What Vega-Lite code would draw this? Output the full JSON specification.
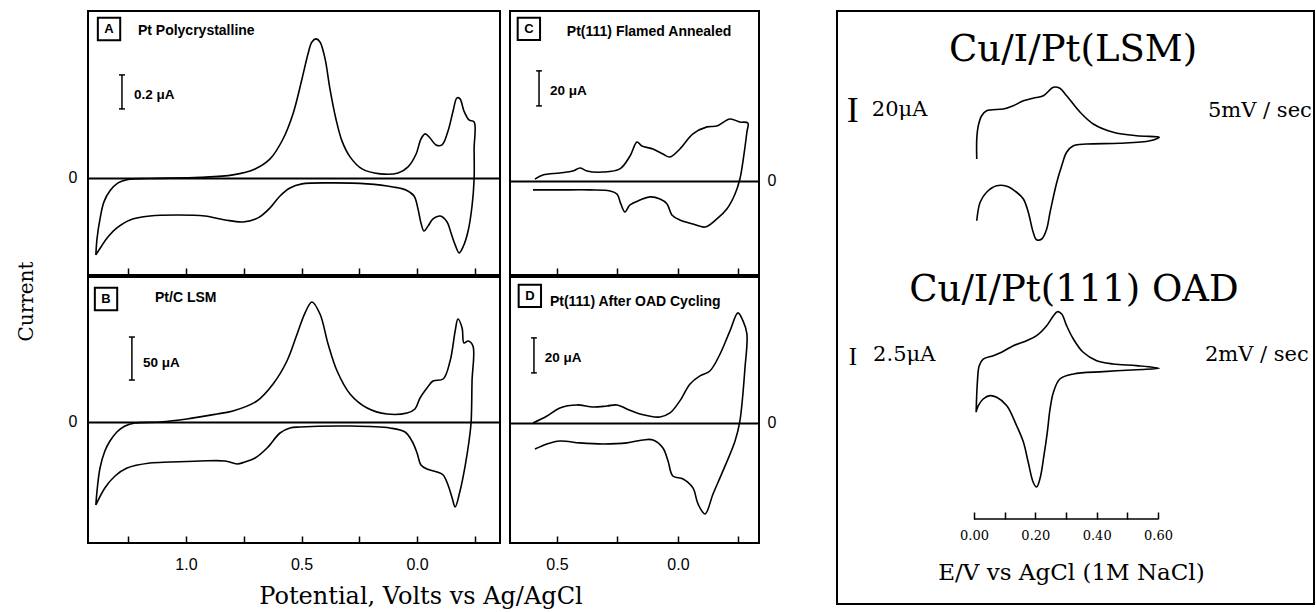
{
"$schema": "https://vega.github.io/schema/vega-lite/v6.json",
"background": "white",
"padding": {"left": 17, "top": 10, "right": 0, "bottom": 0},
"config": {
  "view": {"stroke": "black", "strokeWidth": 2},
  "axis": {"grid": false, "domain": false, "labelColor": "black", "tickColor": "black", "labelFont": "Liberation Sans", "labelFontSize": 16, "labelFlush": false},
  "line": {"color": "black", "strokeWidth": 1.6, "interpolate": "catmull-rom"},
  "rule": {"color": "black", "strokeWidth": 1.5},
  "text": {"color": "black"}
},
"datasets": {
  "cur": [
    {"p":"A","o":1,"v":1.390,"i":-0.453},{"p":"A","o":2,"v":1.385,"i":-0.359},{"p":"A","o":3,"v":1.372,"i":-0.241},{"p":"A","o":4,"v":1.355,"i":-0.141},{"p":"A","o":5,"v":1.329,"i":-0.076},{"p":"A","o":6,"v":1.294,"i":-0.029},{"p":"A","o":7,"v":1.251,"i":-0.009},{"p":"A","o":8,"v":1.156,"i":-0.003},{"p":"A","o":9,"v":0.939,"i":0.003},{"p":"A","o":10,"v":0.797,"i":0.018},
    {"p":"A","o":11,"v":0.701,"i":0.053},{"p":"A","o":12,"v":0.636,"i":0.112},{"p":"A","o":13,"v":0.580,"i":0.229},{"p":"A","o":14,"v":0.537,"i":0.376},{"p":"A","o":15,"v":0.498,"i":0.582},{"p":"A","o":16,"v":0.472,"i":0.729},{"p":"A","o":17,"v":0.455,"i":0.800},{"p":"A","o":18,"v":0.437,"i":0.818},{"p":"A","o":19,"v":0.420,"i":0.800},{"p":"A","o":20,"v":0.398,"i":0.700},
    {"p":"A","o":21,"v":0.377,"i":0.524},{"p":"A","o":22,"v":0.351,"i":0.347},{"p":"A","o":23,"v":0.325,"i":0.218},{"p":"A","o":24,"v":0.290,"i":0.124},{"p":"A","o":25,"v":0.238,"i":0.053},{"p":"A","o":26,"v":0.160,"i":0.024},{"p":"A","o":27,"v":0.082,"i":0.029},{"p":"A","o":28,"v":0.039,"i":0.065},{"p":"A","o":29,"v":0.004,"i":0.141},{"p":"A","o":30,"v":-0.017,"i":0.229},
    {"p":"A","o":31,"v":-0.035,"i":0.259},{"p":"A","o":32,"v":-0.056,"i":0.235},{"p":"A","o":33,"v":-0.082,"i":0.194},{"p":"A","o":34,"v":-0.108,"i":0.194},{"p":"A","o":35,"v":-0.134,"i":0.276},{"p":"A","o":36,"v":-0.156,"i":0.394},{"p":"A","o":37,"v":-0.173,"i":0.471},{"p":"A","o":38,"v":-0.186,"i":0.465},{"p":"A","o":39,"v":-0.203,"i":0.394},{"p":"A","o":40,"v":-0.225,"i":0.341},
    {"p":"A","o":41,"v":-0.247,"i":0.329},{"p":"A","o":42,"v":-0.247,"i":0.171},{"p":"A","o":43,"v":-0.247,"i":-0.006},{"p":"A","o":44,"v":-0.238,"i":-0.165},{"p":"A","o":45,"v":-0.221,"i":-0.312},{"p":"A","o":46,"v":-0.199,"i":-0.406},{"p":"A","o":47,"v":-0.182,"i":-0.441},{"p":"A","o":48,"v":-0.165,"i":-0.394},{"p":"A","o":49,"v":-0.147,"i":-0.324},{"p":"A","o":50,"v":-0.130,"i":-0.259},
    {"p":"A","o":51,"v":-0.100,"i":-0.224},{"p":"A","o":52,"v":-0.069,"i":-0.241},{"p":"A","o":53,"v":-0.048,"i":-0.282},{"p":"A","o":54,"v":-0.030,"i":-0.312},{"p":"A","o":55,"v":-0.017,"i":-0.265},{"p":"A","o":56,"v":-0.004,"i":-0.182},{"p":"A","o":57,"v":0.013,"i":-0.106},{"p":"A","o":58,"v":0.048,"i":-0.071},{"p":"A","o":59,"v":0.104,"i":-0.053},{"p":"A","o":60,"v":0.216,"i":-0.035},
    {"p":"A","o":61,"v":0.364,"i":-0.029},{"p":"A","o":62,"v":0.498,"i":-0.035},{"p":"A","o":63,"v":0.550,"i":-0.059},{"p":"A","o":64,"v":0.593,"i":-0.106},{"p":"A","o":65,"v":0.636,"i":-0.176},{"p":"A","o":66,"v":0.688,"i":-0.235},{"p":"A","o":67,"v":0.753,"i":-0.259},{"p":"A","o":68,"v":0.831,"i":-0.247},{"p":"A","o":69,"v":0.918,"i":-0.224},{"p":"A","o":70,"v":1.039,"i":-0.218},
    {"p":"A","o":71,"v":1.156,"i":-0.224},{"p":"A","o":72,"v":1.242,"i":-0.247},{"p":"A","o":73,"v":1.299,"i":-0.294},{"p":"A","o":74,"v":1.338,"i":-0.347},{"p":"A","o":75,"v":1.368,"i":-0.406},{"p":"A","o":76,"v":1.390,"i":-0.453},

    {"p":"B","o":1,"v":1.390,"i":-96.5},{"p":"B","o":2,"v":1.385,"i":-80.2},{"p":"B","o":3,"v":1.372,"i":-53.5},{"p":"B","o":4,"v":1.351,"i":-33.7},{"p":"B","o":5,"v":1.329,"i":-22.1},{"p":"B","o":6,"v":1.299,"i":-11.6},{"p":"B","o":7,"v":1.264,"i":-4.7},{"p":"B","o":8,"v":1.221,"i":-1.2},{"p":"B","o":9,"v":1.113,"i":0},{"p":"B","o":10,"v":0.996,"i":3.5},
    {"p":"B","o":11,"v":0.866,"i":9.3},{"p":"B","o":12,"v":0.797,"i":12.8},{"p":"B","o":13,"v":0.693,"i":24.4},{"p":"B","o":14,"v":0.623,"i":44.2},{"p":"B","o":15,"v":0.563,"i":70.9},{"p":"B","o":16,"v":0.519,"i":102.3},{"p":"B","o":17,"v":0.485,"i":126.7},{"p":"B","o":18,"v":0.455,"i":139.5},{"p":"B","o":19,"v":0.420,"i":125.6},{"p":"B","o":20,"v":0.385,"i":90.7},
    {"p":"B","o":21,"v":0.346,"i":59.3},{"p":"B","o":22,"v":0.290,"i":32.6},{"p":"B","o":23,"v":0.216,"i":16.3},{"p":"B","o":24,"v":0.130,"i":9.3},{"p":"B","o":25,"v":0.043,"i":10.5},{"p":"B","o":26,"v":0.009,"i":15.1},{"p":"B","o":27,"v":-0.013,"i":27.9},{"p":"B","o":28,"v":-0.043,"i":39.5},{"p":"B","o":29,"v":-0.069,"i":47.7},{"p":"B","o":30,"v":-0.113,"i":50.0},
    {"p":"B","o":31,"v":-0.143,"i":70.9},{"p":"B","o":32,"v":-0.165,"i":105.8},{"p":"B","o":33,"v":-0.177,"i":119.8},{"p":"B","o":34,"v":-0.195,"i":109.3},{"p":"B","o":35,"v":-0.203,"i":91.9},{"p":"B","o":36,"v":-0.221,"i":94.2},{"p":"B","o":37,"v":-0.242,"i":88.4},{"p":"B","o":38,"v":-0.238,"i":47.7},{"p":"B","o":39,"v":-0.234,"i":0},{"p":"B","o":40,"v":-0.225,"i":-22.1},
    {"p":"B","o":41,"v":-0.208,"i":-51.2},{"p":"B","o":42,"v":-0.186,"i":-80.2},{"p":"B","o":43,"v":-0.165,"i":-98.8},{"p":"B","o":44,"v":-0.152,"i":-88.4},{"p":"B","o":45,"v":-0.134,"i":-73.3},{"p":"B","o":46,"v":-0.113,"i":-61.6},{"p":"B","o":47,"v":-0.087,"i":-58.1},{"p":"B","o":48,"v":-0.043,"i":-54.7},{"p":"B","o":49,"v":-0.017,"i":-50.0},{"p":"B","o":50,"v":0.000,"i":-36.0},
    {"p":"B","o":51,"v":0.022,"i":-22.1},{"p":"B","o":52,"v":0.052,"i":-11.6},{"p":"B","o":53,"v":0.117,"i":-7.0},{"p":"B","o":54,"v":0.290,"i":-4.7},{"p":"B","o":55,"v":0.506,"i":-5.8},{"p":"B","o":56,"v":0.550,"i":-7.0},{"p":"B","o":57,"v":0.593,"i":-12.8},{"p":"B","o":58,"v":0.649,"i":-30.2},{"p":"B","o":59,"v":0.701,"i":-41.9},{"p":"B","o":60,"v":0.745,"i":-46.5},
    {"p":"B","o":61,"v":0.779,"i":-48.8},{"p":"B","o":62,"v":0.831,"i":-45.3},{"p":"B","o":63,"v":0.939,"i":-45.3},{"p":"B","o":64,"v":1.069,"i":-46.5},{"p":"B","o":65,"v":1.156,"i":-47.7},{"p":"B","o":66,"v":1.255,"i":-53.5},{"p":"B","o":67,"v":1.307,"i":-62.8},{"p":"B","o":68,"v":1.351,"i":-76.7},{"p":"B","o":69,"v":1.390,"i":-96.5},

    {"p":"C","o":1,"v":0.591,"i":1.1},{"p":"C","o":2,"v":0.558,"i":3.4},{"p":"C","o":3,"v":0.488,"i":4.6},{"p":"C","o":4,"v":0.434,"i":5.7},{"p":"C","o":5,"v":0.405,"i":7.4},{"p":"C","o":6,"v":0.376,"i":5.7},{"p":"C","o":7,"v":0.310,"i":5.1},{"p":"C","o":8,"v":0.240,"i":6.9},{"p":"C","o":9,"v":0.198,"i":14.3},{"p":"C","o":10,"v":0.169,"i":22.3},
    {"p":"C","o":11,"v":0.149,"i":20.0},{"p":"C","o":12,"v":0.103,"i":18.3},{"p":"C","o":13,"v":0.062,"i":15.4},{"p":"C","o":14,"v":0.033,"i":13.7},{"p":"C","o":15,"v":-0.008,"i":18.3},{"p":"C","o":16,"v":-0.062,"i":26.9},{"p":"C","o":17,"v":-0.120,"i":30.9},{"p":"C","o":18,"v":-0.161,"i":31.4},{"p":"C","o":19,"v":-0.215,"i":35.4},{"p":"C","o":20,"v":-0.256,"i":33.7},
    {"p":"C","o":21,"v":-0.289,"i":33.1},{"p":"C","o":22,"v":-0.285,"i":28.0},{"p":"C","o":23,"v":-0.273,"i":15.4},{"p":"C","o":24,"v":-0.256,"i":1.1},{"p":"C","o":25,"v":-0.236,"i":-7.4},{"p":"C","o":26,"v":-0.202,"i":-16.0},{"p":"C","o":27,"v":-0.161,"i":-21.7},{"p":"C","o":28,"v":-0.112,"i":-26.3},{"p":"C","o":29,"v":-0.062,"i":-24.6},{"p":"C","o":30,"v":-0.008,"i":-22.3},
    {"p":"C","o":31,"v":0.025,"i":-19.4},{"p":"C","o":32,"v":0.045,"i":-13.1},{"p":"C","o":33,"v":0.074,"i":-10.3},{"p":"C","o":34,"v":0.116,"i":-9.1},{"p":"C","o":35,"v":0.157,"i":-10.9},{"p":"C","o":36,"v":0.198,"i":-13.7},{"p":"C","o":37,"v":0.219,"i":-17.7},{"p":"C","o":38,"v":0.236,"i":-13.1},{"p":"C","o":39,"v":0.252,"i":-7.4},{"p":"C","o":40,"v":0.281,"i":-5.7},
    {"p":"C","o":41,"v":0.364,"i":-5.1},{"p":"C","o":42,"v":0.488,"i":-5.1},{"p":"C","o":43,"v":0.599,"i":-5.1},

    {"p":"D","o":1,"v":0.599,"i":0},{"p":"D","o":2,"v":0.541,"i":4.0},{"p":"D","o":3,"v":0.488,"i":8.6},{"p":"D","o":4,"v":0.417,"i":10.3},{"p":"D","o":5,"v":0.351,"i":9.1},{"p":"D","o":6,"v":0.293,"i":9.7},{"p":"D","o":7,"v":0.252,"i":10.3},{"p":"D","o":8,"v":0.211,"i":8.0},{"p":"D","o":9,"v":0.157,"i":5.1},{"p":"D","o":10,"v":0.074,"i":3.4},
    {"p":"D","o":11,"v":0.033,"i":5.7},{"p":"D","o":12,"v":-0.008,"i":12.6},{"p":"D","o":13,"v":-0.050,"i":22.3},{"p":"D","o":14,"v":-0.091,"i":26.9},{"p":"D","o":15,"v":-0.132,"i":29.7},{"p":"D","o":16,"v":-0.174,"i":39.4},{"p":"D","o":17,"v":-0.215,"i":52.6},{"p":"D","o":18,"v":-0.248,"i":62.9},{"p":"D","o":19,"v":-0.269,"i":58.3},{"p":"D","o":20,"v":-0.285,"i":50.9},
    {"p":"D","o":21,"v":-0.277,"i":31.4},{"p":"D","o":22,"v":-0.256,"i":1.1},{"p":"D","o":23,"v":-0.236,"i":-10.3},{"p":"D","o":24,"v":-0.186,"i":-27.4},{"p":"D","o":25,"v":-0.145,"i":-40.6},{"p":"D","o":26,"v":-0.112,"i":-52.0},{"p":"D","o":27,"v":-0.083,"i":-46.3},{"p":"D","o":28,"v":-0.062,"i":-37.1},{"p":"D","o":29,"v":-0.021,"i":-32.0},{"p":"D","o":30,"v":0.021,"i":-30.3},
    {"p":"D","o":31,"v":0.041,"i":-21.7},{"p":"D","o":32,"v":0.062,"i":-14.3},{"p":"D","o":33,"v":0.103,"i":-9.7},{"p":"D","o":34,"v":0.145,"i":-9.7},{"p":"D","o":35,"v":0.211,"i":-11.4},{"p":"D","o":36,"v":0.310,"i":-12.0},{"p":"D","o":37,"v":0.405,"i":-11.4},{"p":"D","o":38,"v":0.488,"i":-10.3},{"p":"D","o":39,"v":0.541,"i":-12.0},{"p":"D","o":40,"v":0.591,"i":-14.9},

    {"p":"LSM","o":1,"v":0.009,"i":-17.6},{"p":"LSM","o":2,"v":0.009,"i":-1.6},{"p":"LSM","o":3,"v":0.014,"i":9.0},{"p":"LSM","o":4,"v":0.025,"i":17.0},{"p":"LSM","o":5,"v":0.041,"i":21.0},{"p":"LSM","o":6,"v":0.096,"i":22.4},{"p":"LSM","o":7,"v":0.128,"i":25.0},{"p":"LSM","o":8,"v":0.161,"i":29.0},{"p":"LSM","o":9,"v":0.193,"i":31.0},{"p":"LSM","o":10,"v":0.226,"i":33.0},
    {"p":"LSM","o":11,"v":0.259,"i":39.8},{"p":"LSM","o":12,"v":0.280,"i":39.0},{"p":"LSM","o":13,"v":0.302,"i":33.0},{"p":"LSM","o":14,"v":0.346,"i":19.8},{"p":"LSM","o":15,"v":0.389,"i":10.4},{"p":"LSM","o":16,"v":0.454,"i":3.8},{"p":"LSM","o":17,"v":0.530,"i":1.0},{"p":"LSM","o":18,"v":0.596,"i":0.2},{"p":"LSM","o":19,"v":0.604,"i":-0.2},{"p":"LSM","o":20,"v":0.574,"i":-3.0},
    {"p":"LSM","o":21,"v":0.476,"i":-5.0},{"p":"LSM","o":22,"v":0.367,"i":-5.6},{"p":"LSM","o":23,"v":0.324,"i":-7.0},{"p":"LSM","o":24,"v":0.302,"i":-12.2},{"p":"LSM","o":25,"v":0.286,"i":-23.0},{"p":"LSM","o":26,"v":0.270,"i":-36.2},{"p":"LSM","o":27,"v":0.248,"i":-60.2},{"p":"LSM","o":28,"v":0.237,"i":-73.6},{"p":"LSM","o":29,"v":0.221,"i":-81.6},{"p":"LSM","o":30,"v":0.204,"i":-82.2},
    {"p":"LSM","o":31,"v":0.193,"i":-76.2},{"p":"LSM","o":32,"v":0.177,"i":-60.2},{"p":"LSM","o":33,"v":0.161,"i":-49.6},{"p":"LSM","o":34,"v":0.139,"i":-44.2},{"p":"LSM","o":35,"v":0.107,"i":-39.4},{"p":"LSM","o":36,"v":0.074,"i":-39.0},{"p":"LSM","o":37,"v":0.041,"i":-44.2},{"p":"LSM","o":38,"v":0.020,"i":-52.2},{"p":"LSM","o":39,"v":0.009,"i":-67.0},

    {"p":"OAD","o":1,"v":0.007,"i":-6.5},{"p":"OAD","o":2,"v":0.011,"i":-2.1},{"p":"OAD","o":3,"v":0.017,"i":0.34},{"p":"OAD","o":4,"v":0.030,"i":1.32},{"p":"OAD","o":5,"v":0.063,"i":1.81},{"p":"OAD","o":6,"v":0.090,"i":2.31},{"p":"OAD","o":7,"v":0.128,"i":3.28},{"p":"OAD","o":8,"v":0.172,"i":4.01},{"p":"OAD","o":9,"v":0.204,"i":4.75},{"p":"OAD","o":10,"v":0.237,"i":6.22},
    {"p":"OAD","o":11,"v":0.259,"i":7.69},{"p":"OAD","o":12,"v":0.272,"i":8.28},{"p":"OAD","o":13,"v":0.286,"i":7.94},{"p":"OAD","o":14,"v":0.302,"i":6.22},{"p":"OAD","o":15,"v":0.324,"i":4.26},{"p":"OAD","o":16,"v":0.356,"i":2.31},{"p":"OAD","o":17,"v":0.400,"i":1.07},{"p":"OAD","o":18,"v":0.454,"i":0.59},{"p":"OAD","o":19,"v":0.530,"i":0.34},{"p":"OAD","o":20,"v":0.604,"i":-0.05},
    {"p":"OAD","o":21,"v":0.530,"i":-0.25},{"p":"OAD","o":22,"v":0.422,"i":-0.54},{"p":"OAD","o":23,"v":0.324,"i":-0.88},{"p":"OAD","o":24,"v":0.280,"i":-1.62},{"p":"OAD","o":25,"v":0.259,"i":-3.57},{"p":"OAD","o":26,"v":0.248,"i":-6.03},{"p":"OAD","o":27,"v":0.239,"i":-9.46},{"p":"OAD","o":28,"v":0.228,"i":-12.9},{"p":"OAD","o":29,"v":0.215,"i":-16.3},{"p":"OAD","o":30,"v":0.204,"i":-17.5},
    {"p":"OAD","o":31,"v":0.193,"i":-16.8},{"p":"OAD","o":32,"v":0.177,"i":-13.9},{"p":"OAD","o":33,"v":0.161,"i":-10.9},{"p":"OAD","o":34,"v":0.139,"i":-8.49},{"p":"OAD","o":35,"v":0.107,"i":-5.54},{"p":"OAD","o":36,"v":0.074,"i":-4.31},{"p":"OAD","o":37,"v":0.052,"i":-4.07},{"p":"OAD","o":38,"v":0.030,"i":-4.56},{"p":"OAD","o":39,"v":0.014,"i":-5.54},{"p":"OAD","o":40,"v":0.007,"i":-6.5}
  ],
  "bar": [
    {"p":"A","k":"v","v":1.277,"i":0.606,"i2":0.406},{"p":"A","k":"h","v":1.290,"v2":1.264,"i":0.606},{"p":"A","k":"h","v":1.290,"v2":1.264,"i":0.406},
    {"p":"B","k":"v","v":1.234,"i":98.8,"i2":48.8},{"p":"B","k":"h","v":1.247,"v2":1.221,"i":98.8},{"p":"B","k":"h","v":1.247,"v2":1.221,"i":48.8},
    {"p":"C","k":"v","v":0.574,"i":62.9,"i2":42.9},{"p":"C","k":"h","v":0.586,"v2":0.562,"i":62.9},{"p":"C","k":"h","v":0.586,"v2":0.562,"i":42.9},
    {"p":"D","k":"v","v":0.595,"i":48.6,"i2":28.6},{"p":"D","k":"h","v":0.607,"v2":0.583,"i":48.6},{"p":"D","k":"h","v":0.607,"v2":0.583,"i":28.6},
    {"p":"OAD","k":"h","v":0,"v2":0.6,"i":-22.2}
  ],
  "txt": [
    {"p":"A","k":"box","v":1.333,"i":0.876,"t":"A"},{"p":"A","k":"lab","v":1.208,"i":0.865,"t":"Pt Polycrystalline"},{"p":"A","k":"sc","v":1.225,"i":0.488,"t":"0.2 μA"},
    {"p":"B","k":"box","v":1.346,"i":143.0,"t":"B"},{"p":"B","k":"lab","v":1.134,"i":144.2,"t":"Pt/C LSM"},{"p":"B","k":"sc","v":1.186,"i":68.6,"t":"50 μA"},
    {"p":"C","k":"box","v":0.616,"i":86.9,"t":"C"},{"p":"C","k":"lab","v":0.459,"i":85.1,"t":"Pt(111) Flamed Annealed"},{"p":"C","k":"sc","v":0.529,"i":51.4,"t":"20 μA"},
    {"p":"D","k":"box","v":0.612,"i":72.6,"t":"D"},{"p":"D","k":"lab","v":0.529,"i":69.1,"t":"Pt(111) After OAD Cycling"},{"p":"D","k":"sc","v":0.550,"i":37.1,"t":"20 μA"},
    {"p":"LSM","k":"big","v":0.323,"i":60.8,"t":"Cu/I/Pt(LSM)"},{"p":"LSM","k":"bar","v":-0.395,"i":12,"t":"I"},{"p":"LSM","k":"lab","v":-0.333,"i":16.8,"t":"20μA"},{"p":"LSM","k":"lab","v":0.763,"i":16,"t":"5mV / sec"},
    {"p":"OAD","k":"big","v":0.326,"i":9.85,"t":"Cu/I/Pt(111) OAD"},{"p":"OAD","k":"bar","v":-0.395,"i":0.44,"t":"I"},{"p":"OAD","k":"lab","v":-0.329,"i":1.03,"t":"2.5μA"},{"p":"OAD","k":"lab","v":0.753,"i":1.03,"t":"2mV / sec"}
  ]
},
"spacing": 59,
"hconcat": [
  {
    "title": {"text": "Potential, Volts vs Ag/AgCl", "orient": "bottom", "anchor": "middle", "frame": "bounds", "font": "DejaVu Serif", "fontSize": 24, "fontWeight": "normal", "color": "black", "offset": 12, "dx": 24},
    "vconcat": [
      {
        "title": {"text": "Current", "orient": "left", "anchor": "middle", "frame": "bounds", "font": "DejaVu Serif", "fontSize": 20, "fontWeight": "normal", "color": "black", "offset": 30, "dx": -10},
        "spacing": -4,
        "vconcat": [
          {
            "spacing": 8,
            "hconcat": [
              {
                "width": 412, "height": 264,
                "encoding": {
                  "x": {"field": "v", "type": "quantitative", "scale": {"domain": [-0.359, 1.424], "reverse": true, "nice": false, "zero": false},
                        "axis": {"values": [1.25, 1, 0.75, 0.5, 0.25, 0, -0.25], "labels": false, "tickSize": -7, "tickWidth": 1.5, "title": null}},
                  "y": {"field": "i", "type": "quantitative", "scale": {"domain": [-0.571, 0.982], "nice": false, "zero": false},
                        "axis": {"orient": "left", "values": [0], "grid": true, "gridColor": "black", "gridWidth": 2, "gridOpacity": 1, "ticks": false, "tickSize": 0, "labelPadding": 11, "title": null}}
                },
                "layer": [
                  {"data": {"name": "cur"}, "transform": [{"filter": "datum.p=='A'"}], "mark": {"type": "line"}, "encoding": {"order": {"field": "o", "type": "quantitative"}}},
                  {"data": {"name": "bar"}, "transform": [{"filter": "datum.p=='A' && datum.k=='v'"}], "mark": {"type": "rule"}, "encoding": {"y2": {"field": "i2"}}},
                  {"data": {"name": "bar"}, "transform": [{"filter": "datum.p=='A' && datum.k=='h'"}], "mark": {"type": "rule"}, "encoding": {"x2": {"field": "v2"}}},
                  {"data": {"name": "txt"}, "transform": [{"filter": "datum.p=='A' && datum.k=='box'"}], "mark": {"type": "point", "shape": "square", "size": 500, "filled": false, "stroke": "black", "strokeWidth": 2, "opacity": 1}},
                  {"data": {"name": "txt"}, "transform": [{"filter": "datum.p=='A' && datum.k=='box'"}], "mark": {"type": "text", "font": "Liberation Sans", "fontWeight": "bold", "fontSize": 13, "align": "center", "baseline": "middle"}, "encoding": {"text": {"field": "t"}}},
                  {"data": {"name": "txt"}, "transform": [{"filter": "datum.p=='A' && datum.k=='lab'"}], "mark": {"type": "text", "font": "Liberation Sans", "fontWeight": "bold", "fontSize": 14, "align": "left", "baseline": "middle"}, "encoding": {"text": {"field": "t"}}},
                  {"data": {"name": "txt"}, "transform": [{"filter": "datum.p=='A' && datum.k=='sc'"}], "mark": {"type": "text", "font": "Liberation Sans", "fontWeight": "bold", "fontSize": 13.5, "align": "left", "baseline": "middle"}, "encoding": {"text": {"field": "t"}}}
                ]
              },
              {
                "width": 249, "height": 264,
                "encoding": {
                  "x": {"field": "v", "type": "quantitative", "scale": {"domain": [-0.335, 0.694], "reverse": true, "nice": false, "zero": false},
                        "axis": {"values": [0.5, 0.25, 0, -0.25], "labels": false, "tickSize": -7, "tickWidth": 1.5, "title": null}},
                  "y": {"field": "i", "type": "quantitative", "scale": {"domain": [-53.7, 97.1], "nice": false, "zero": false},
                        "axis": {"orient": "right", "values": [0], "grid": true, "gridColor": "black", "gridWidth": 2, "gridOpacity": 1, "ticks": false, "tickSize": 0, "labelPadding": 8, "title": null}}
                },
                "layer": [
                  {"data": {"name": "cur"}, "transform": [{"filter": "datum.p=='C'"}], "mark": {"type": "line"}, "encoding": {"order": {"field": "o", "type": "quantitative"}}},
                  {"data": {"name": "bar"}, "transform": [{"filter": "datum.p=='C' && datum.k=='v'"}], "mark": {"type": "rule"}, "encoding": {"y2": {"field": "i2"}}},
                  {"data": {"name": "bar"}, "transform": [{"filter": "datum.p=='C' && datum.k=='h'"}], "mark": {"type": "rule"}, "encoding": {"x2": {"field": "v2"}}},
                  {"data": {"name": "txt"}, "transform": [{"filter": "datum.p=='C' && datum.k=='box'"}], "mark": {"type": "point", "shape": "square", "size": 500, "filled": false, "stroke": "black", "strokeWidth": 2, "opacity": 1}},
                  {"data": {"name": "txt"}, "transform": [{"filter": "datum.p=='C' && datum.k=='box'"}], "mark": {"type": "text", "font": "Liberation Sans", "fontWeight": "bold", "fontSize": 13, "align": "center", "baseline": "middle"}, "encoding": {"text": {"field": "t"}}},
                  {"data": {"name": "txt"}, "transform": [{"filter": "datum.p=='C' && datum.k=='lab'"}], "mark": {"type": "text", "font": "Liberation Sans", "fontWeight": "bold", "fontSize": 14, "align": "left", "baseline": "middle"}, "encoding": {"text": {"field": "t"}}},
                  {"data": {"name": "txt"}, "transform": [{"filter": "datum.p=='C' && datum.k=='sc'"}], "mark": {"type": "text", "font": "Liberation Sans", "fontWeight": "bold", "fontSize": 13.5, "align": "left", "baseline": "middle"}, "encoding": {"text": {"field": "t"}}}
                ]
              }
            ]
          },
          {
            "spacing": 8,
            "hconcat": [
              {
                "width": 412, "height": 266,
                "encoding": {
                  "x": {"field": "v", "type": "quantitative", "scale": {"domain": [-0.359, 1.424], "reverse": true, "nice": false, "zero": false},
                        "axis": {"values": [1.25, 1, 0.75, 0.5, 0.25, 0, -0.25], "tickSize": -7, "tickWidth": 1.5, "labelPadding": 20, "labelExpr": "(datum.value==1||datum.value==0.5||datum.value==0) ? format(datum.value,'.1f') : ''", "title": null}},
                  "y": {"field": "i", "type": "quantitative", "scale": {"domain": [-140.7, 168.6], "nice": false, "zero": false},
                        "axis": {"orient": "left", "values": [0], "grid": true, "gridColor": "black", "gridWidth": 2, "gridOpacity": 1, "ticks": false, "tickSize": 0, "labelPadding": 11, "title": null}}
                },
                "layer": [
                  {"data": {"name": "cur"}, "transform": [{"filter": "datum.p=='B'"}], "mark": {"type": "line"}, "encoding": {"order": {"field": "o", "type": "quantitative"}}},
                  {"data": {"name": "bar"}, "transform": [{"filter": "datum.p=='B' && datum.k=='v'"}], "mark": {"type": "rule"}, "encoding": {"y2": {"field": "i2"}}},
                  {"data": {"name": "bar"}, "transform": [{"filter": "datum.p=='B' && datum.k=='h'"}], "mark": {"type": "rule"}, "encoding": {"x2": {"field": "v2"}}},
                  {"data": {"name": "txt"}, "transform": [{"filter": "datum.p=='B' && datum.k=='box'"}], "mark": {"type": "point", "shape": "square", "size": 500, "filled": false, "stroke": "black", "strokeWidth": 2, "opacity": 1}},
                  {"data": {"name": "txt"}, "transform": [{"filter": "datum.p=='B' && datum.k=='box'"}], "mark": {"type": "text", "font": "Liberation Sans", "fontWeight": "bold", "fontSize": 13, "align": "center", "baseline": "middle"}, "encoding": {"text": {"field": "t"}}},
                  {"data": {"name": "txt"}, "transform": [{"filter": "datum.p=='B' && datum.k=='lab'"}], "mark": {"type": "text", "font": "Liberation Sans", "fontWeight": "bold", "fontSize": 14, "align": "left", "baseline": "middle"}, "encoding": {"text": {"field": "t"}}},
                  {"data": {"name": "txt"}, "transform": [{"filter": "datum.p=='B' && datum.k=='sc'"}], "mark": {"type": "text", "font": "Liberation Sans", "fontWeight": "bold", "fontSize": 13.5, "align": "left", "baseline": "middle"}, "encoding": {"text": {"field": "t"}}}
                ]
              },
              {
                "width": 249, "height": 266,
                "encoding": {
                  "x": {"field": "v", "type": "quantitative", "scale": {"domain": [-0.335, 0.694], "reverse": true, "nice": false, "zero": false},
                        "axis": {"values": [0.5, 0.25, 0, -0.25], "tickSize": -7, "tickWidth": 1.5, "labelPadding": 20, "labelExpr": "(datum.value==0.5||datum.value==0) ? format(datum.value,'.1f') : ''", "title": null}},
                  "y": {"field": "i", "type": "quantitative", "scale": {"domain": [-68.6, 83.4], "nice": false, "zero": false},
                        "axis": {"orient": "right", "values": [0], "grid": true, "gridColor": "black", "gridWidth": 2, "gridOpacity": 1, "ticks": false, "tickSize": 0, "labelPadding": 8, "title": null}}
                },
                "layer": [
                  {"data": {"name": "cur"}, "transform": [{"filter": "datum.p=='D'"}], "mark": {"type": "line"}, "encoding": {"order": {"field": "o", "type": "quantitative"}}},
                  {"data": {"name": "bar"}, "transform": [{"filter": "datum.p=='D' && datum.k=='v'"}], "mark": {"type": "rule"}, "encoding": {"y2": {"field": "i2"}}},
                  {"data": {"name": "bar"}, "transform": [{"filter": "datum.p=='D' && datum.k=='h'"}], "mark": {"type": "rule"}, "encoding": {"x2": {"field": "v2"}}},
                  {"data": {"name": "txt"}, "transform": [{"filter": "datum.p=='D' && datum.k=='box'"}], "mark": {"type": "point", "shape": "square", "size": 500, "filled": false, "stroke": "black", "strokeWidth": 2, "opacity": 1}},
                  {"data": {"name": "txt"}, "transform": [{"filter": "datum.p=='D' && datum.k=='box'"}], "mark": {"type": "text", "font": "Liberation Sans", "fontWeight": "bold", "fontSize": 13, "align": "center", "baseline": "middle"}, "encoding": {"text": {"field": "t"}}},
                  {"data": {"name": "txt"}, "transform": [{"filter": "datum.p=='D' && datum.k=='lab'"}], "mark": {"type": "text", "font": "Liberation Sans", "fontWeight": "bold", "fontSize": 14, "align": "left", "baseline": "middle"}, "encoding": {"text": {"field": "t"}}},
                  {"data": {"name": "txt"}, "transform": [{"filter": "datum.p=='D' && datum.k=='sc'"}], "mark": {"type": "text", "font": "Liberation Sans", "fontWeight": "bold", "fontSize": 13.5, "align": "left", "baseline": "middle"}, "encoding": {"text": {"field": "t"}}}
                ]
              }
            ]
          }
        ]
      }
    ]
  },
  {
    "width": 477, "height": 593,
    "encoding": {
      "x": {"field": "v", "type": "quantitative", "scale": {"domain": [-0.4467, 1.1086], "nice": false, "zero": false},
            "axis": {"orient": "bottom", "offset": -85, "values": [0, 0.1, 0.2, 0.3, 0.4, 0.5, 0.6], "tickSize": -7, "tickWidth": 1.5, "labelPadding": 17, "labelFont": "DejaVu Serif", "labelFontSize": 13, "labelExpr": "round(datum.value*10)%2==0 ? format(datum.value,'.2f') : ''",
                     "title": "E/V vs AgCl (1M NaCl)", "titleFont": "DejaVu Serif", "titleFontSize": 23, "titleFontWeight": "normal", "titleColor": "black", "titleX": 234, "titleY": 53, "titleBaseline": "middle", "titleAlign": "center"}}
    },
    "resolve": {"scale": {"y": "independent"}},
    "layer": [
      {
        "encoding": {"y": {"field": "i", "type": "quantitative", "scale": {"domain": [-373.6, 100.8], "nice": false, "zero": false}, "axis": null}},
        "layer": [
          {"data": {"name": "cur"}, "transform": [{"filter": "datum.p=='LSM'"}], "mark": {"type": "line"}, "encoding": {"order": {"field": "o", "type": "quantitative"}}},
          {"data": {"name": "txt"}, "transform": [{"filter": "datum.p=='LSM' && datum.k=='big'"}], "mark": {"type": "text", "font": "DejaVu Serif", "fontSize": 37, "align": "center", "baseline": "alphabetic"}, "encoding": {"text": {"field": "t"}}},
          {"data": {"name": "txt"}, "transform": [{"filter": "datum.p=='LSM' && datum.k=='bar'"}], "mark": {"type": "text", "font": "Liberation Serif", "fontSize": 36, "align": "center", "baseline": "alphabetic"}, "encoding": {"text": {"field": "t"}}},
          {"data": {"name": "txt"}, "transform": [{"filter": "datum.p=='LSM' && datum.k=='lab'"}], "mark": {"type": "text", "font": "DejaVu Serif", "fontSize": 21, "align": "left", "baseline": "alphabetic"}, "encoding": {"text": {"field": "t"}}}
        ]
      },
      {
        "encoding": {"y": {"field": "i", "type": "quantitative", "scale": {"domain": [-34.71, 52.5], "nice": false, "zero": false}, "axis": null}},
        "layer": [
          {"data": {"name": "cur"}, "transform": [{"filter": "datum.p=='OAD'"}], "mark": {"type": "line"}, "encoding": {"order": {"field": "o", "type": "quantitative"}}},
          {"data": {"name": "bar"}, "transform": [{"filter": "datum.p=='OAD'"}], "mark": {"type": "rule"}, "encoding": {"x2": {"field": "v2"}}},
          {"data": {"name": "txt"}, "transform": [{"filter": "datum.p=='OAD' && datum.k=='big'"}], "mark": {"type": "text", "font": "DejaVu Serif", "fontSize": 37, "align": "center", "baseline": "alphabetic"}, "encoding": {"text": {"field": "t"}}},
          {"data": {"name": "txt"}, "transform": [{"filter": "datum.p=='OAD' && datum.k=='bar'"}], "mark": {"type": "text", "font": "Liberation Serif", "fontSize": 25, "align": "center", "baseline": "alphabetic"}, "encoding": {"text": {"field": "t"}}},
          {"data": {"name": "txt"}, "transform": [{"filter": "datum.p=='OAD' && datum.k=='lab'"}], "mark": {"type": "text", "font": "DejaVu Serif", "fontSize": 21, "align": "left", "baseline": "alphabetic"}, "encoding": {"text": {"field": "t"}}}
        ]
      }
    ]
  }
]
}
